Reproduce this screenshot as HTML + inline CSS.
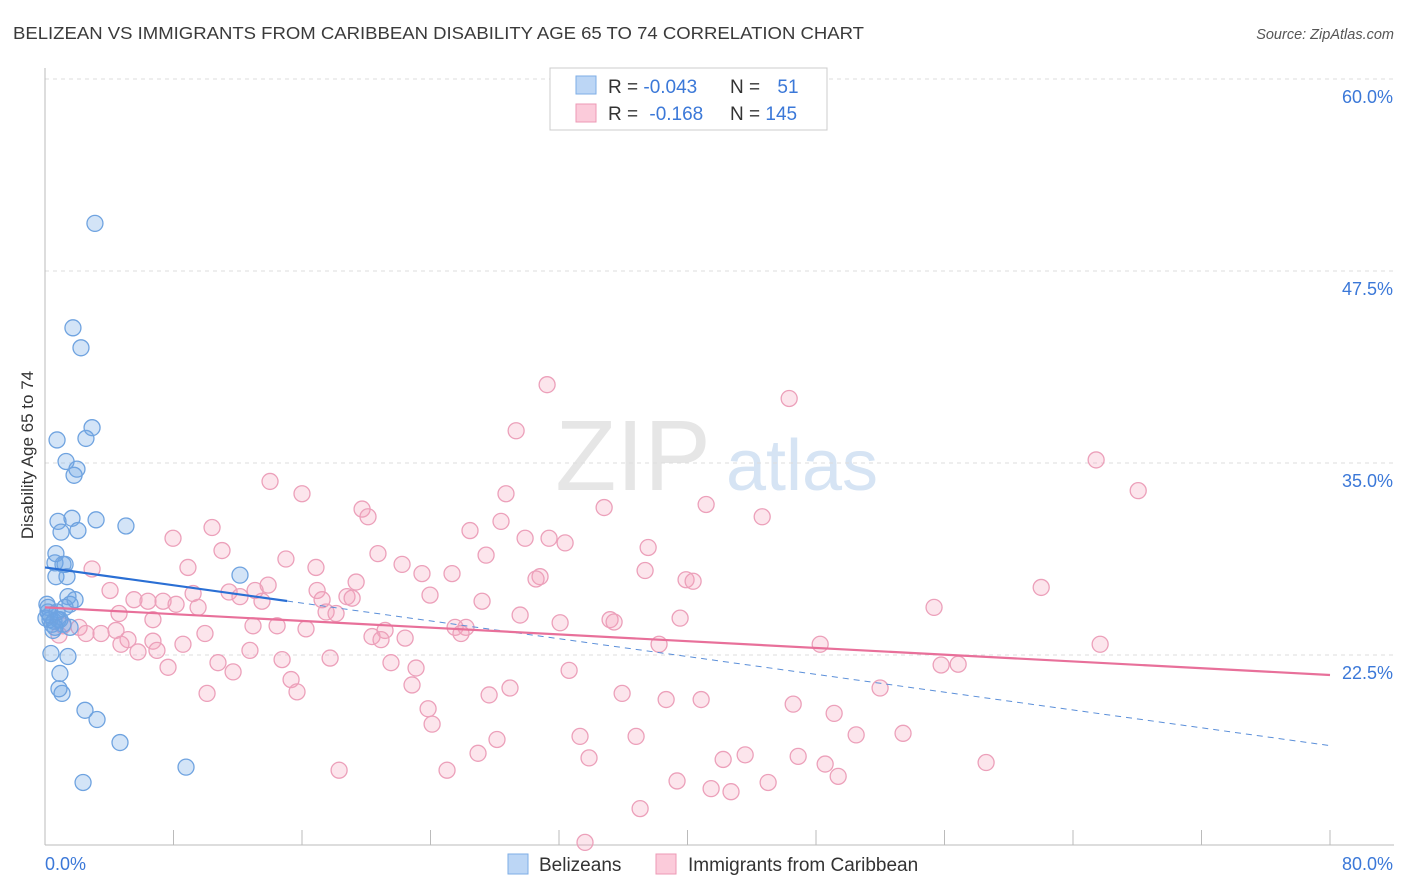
<!DOCTYPE html>
<html><head><meta charset="utf-8"><style>
body{margin:0;background:#fff;font-family:"Liberation Sans",sans-serif;}
#wrap{position:relative;width:1406px;height:892px;overflow:hidden;}
svg text{font-family:"Liberation Sans",sans-serif;}
</style></head><body>
<div id="wrap">
<svg id="chart" width="1406" height="892">
<text x="13" y="39" font-size="17.5" fill="#3a3a3a" textLength="851" lengthAdjust="spacingAndGlyphs">BELIZEAN VS IMMIGRANTS FROM CARIBBEAN DISABILITY AGE 65 TO 74 CORRELATION CHART</text>
<text x="1394" y="39" font-size="14.5" fill="#555" font-style="italic" text-anchor="end">Source: ZipAtlas.com</text>
<text x="633" y="490" font-size="100" fill="#e6e6e6" font-family="Liberation Serif" text-anchor="middle">ZIP</text>
<text x="802" y="490" font-size="72" fill="#d6e4f4" text-anchor="middle">atlas</text>
<text transform="translate(33,455) rotate(-90)" font-size="17" fill="#333" text-anchor="middle">Disability Age 65 to 74</text>
<g id="grid"></g><g id="axes"></g><g id="lines"></g><g id="pts"></g>
<g>
<rect x="550" y="68" width="277" height="62" fill="#fff" stroke="#ccc"/>
<rect x="576" y="76" width="20" height="18" fill="#bcd6f5" stroke="#7eaee6"/>
<rect x="576" y="104" width="20" height="18" fill="#fbcbda" stroke="#ec9ab5"/>
<text x="608" y="93" font-size="19" fill="#333">R = <tspan fill="#3b78d8">-0.043</tspan></text>
<text x="730" y="93" font-size="19" fill="#333">N = <tspan dx="12" fill="#3b78d8">51</tspan></text>
<text x="608" y="120" font-size="19" fill="#333">R = <tspan dx="6" fill="#3b78d8">-0.168</tspan></text>
<text x="730" y="120" font-size="19" fill="#333">N = <tspan fill="#3b78d8">145</tspan></text>
</g>
<g>
<rect x="508" y="854" width="20" height="20" fill="#bcd6f5" stroke="#7eaee6"/>
<text x="539" y="871" font-size="19" fill="#333">Belizeans</text>
<rect x="656" y="854" width="20" height="20" fill="#fbcbda" stroke="#ec9ab5"/>
<text x="688" y="871" font-size="19" fill="#333">Immigrants from Caribbean</text>
</g>
</svg></div>
<script>
const yTicks=[60,47.5,35,22.5];
const yTickLabels=["60.0%","47.5%","35.0%","22.5%"];
const xTicks=[0,8,16,24,32,40,48,56,64,72,80];
const blueX=[3.11,1.74,2.24,2.93,2.55,0.75,1.31,1.99,1.81,3.18,1.68,0.81,2.05,1.0,5.04,0.68,0.62,1.12,1.25,0.68,1.37,12.14,1.43,1.56,1.87,0.12,0.19,0.31,0.44,0.62,0.93,1.56,0.37,1.43,0.93,1.06,0.87,2.49,3.24,4.67,8.78,2.37,0.19,0.31,0.56,0.06,0.81,1.12,0.5,1.25,0.75];
const blueY=[50.6,43.8,42.5,37.3,36.6,36.5,35.1,34.6,34.2,31.3,31.4,31.2,30.6,30.5,30.9,29.1,28.5,28.4,28.4,27.6,27.6,27.7,26.3,25.8,26.1,25.8,25.3,24.8,24.5,24.3,24.8,24.3,22.6,22.4,21.3,20.0,20.3,18.9,18.3,16.8,15.2,14.2,25.6,25.1,24.7,24.9,24.8,24.5,24.1,25.6,25.3];
const pinkX=[31.26,46.33,29.33,65.44,68.06,14.01,16.0,28.7,19.74,20.11,34.81,41.16,44.65,10.4,26.46,28.39,7.97,29.89,31.38,32.38,11.02,20.73,27.46,37.55,15.0,16.87,22.23,8.9,2.93,23.47,25.34,30.82,30.57,37.36,39.91,40.35,19.37,62.02,13.89,4.05,11.46,13.08,9.22,23.97,27.21,5.54,6.41,7.35,12.14,13.51,16.94,17.25,18.8,19.12,8.16,9.53,17.5,4.61,29.58,55.35,6.72,18.12,35.18,35.43,39.54,32.07,14.45,16.25,12.95,25.53,26.21,21.17,25.9,1.12,2.12,2.55,3.49,4.42,5.17,0.87,4.73,6.72,6.97,9.96,8.59,5.79,20.36,20.92,22.42,12.76,48.26,65.69,38.23,17.75,14.76,10.77,21.54,23.1,32.63,7.66,11.71,55.79,56.85,15.32,22.85,28.95,27.65,10.09,15.69,35.93,51.99,38.67,40.85,23.85,46.58,49.13,24.1,33.31,36.8,28.14,50.5,53.42,43.59,42.22,26.96,33.87,46.89,18.31,25.03,48.57,58.59,49.38,39.35,41.47,42.71,45.02,37.05,33.62];
const pinkY=[40.1,39.2,37.1,35.2,33.2,33.8,33.0,33.0,32.0,31.5,32.1,32.3,31.5,30.8,30.6,31.2,30.1,30.1,30.1,29.8,29.3,29.1,29.0,29.5,28.75,28.2,28.4,28.2,28.1,27.8,27.8,27.6,27.45,28.0,27.4,27.3,27.25,26.9,27.05,26.7,26.6,26.7,26.5,26.4,26.0,26.1,26.0,26.0,26.3,26.0,26.7,26.1,26.3,26.2,25.8,25.6,25.3,25.2,25.1,25.6,24.8,25.2,24.8,24.65,24.9,24.6,24.4,24.2,24.4,24.3,24.3,24.1,23.9,24.4,24.3,23.9,23.9,24.1,23.5,23.8,23.2,23.4,22.8,23.9,23.2,22.7,23.7,23.5,23.6,22.8,23.2,23.2,23.2,22.3,22.2,22.0,22.0,21.65,21.5,21.7,21.4,21.85,21.9,20.9,20.55,20.35,19.9,20.0,20.1,20.0,20.35,19.6,19.6,19.0,19.3,18.7,18.0,17.2,17.2,17.0,17.3,17.4,16.0,15.7,16.1,15.8,15.9,15.0,15.0,15.4,15.5,14.6,14.3,13.8,13.6,14.2,12.5,10.3];
const blueTrend=[28.2,16.6]; const blueSolidEnd=15.07;
const pinkTrend=[25.6,21.2];
const NS="http://www.w3.org/2000/svg";
const X=v=>45+v*16.0625, Y=v=>79+(60-v)*15.36;
function mk(t,a,p){const e=document.createElementNS(NS,t);for(const k in a)e.setAttribute(k,a[k]);p.appendChild(e);return e;}
const grid=document.getElementById('grid'),axes=document.getElementById('axes'),lines=document.getElementById('lines'),pts=document.getElementById('pts');
yTicks.forEach((t,i)=>{
 const l=mk('line',{x1:45,x2:1394,y1:Y(t),y2:Y(t),stroke:'#ddd','stroke-dasharray':'4,4'},grid);
 
 
 const tx=mk('text',{x:1393,y:Y(t)+24,'font-size':18,fill:'#3b78d8','text-anchor':'end'},grid);
 tx.textContent=yTickLabels[i];
 
 
});
mk('line',{x1:45,x2:45,y1:68,y2:845,stroke:'#bbb'},axes);
mk('line',{x1:45,x2:1394,y1:845,y2:845,stroke:'#bbb'},axes);
xTicks.forEach(t=>{const l=mk('line',{x1:X(t),x2:X(t),y1:830,y2:845,stroke:'#bbb'},axes);
 
 });
const xl0=mk('text',{x:45,y:870,'font-size':18,fill:'#3b78d8'},axes);xl0.textContent='0.0%';


const xl1=mk('text',{x:1393,y:870,'font-size':18,fill:'#3b78d8','text-anchor':'end'},axes);xl1.textContent='80.0%';


pinkX.forEach((x,i)=>{const c=mk('circle',{cx:X(x),cy:Y(pinkY[i]),r:8,fill:'rgba(244,160,188,0.28)',stroke:'#eca0ba','stroke-width':1.3},pts);
 
 });
blueX.forEach((x,i)=>{const c=mk('circle',{cx:X(x),cy:Y(blueY[i]),r:8,fill:'rgba(110,165,230,0.3)',stroke:'#6fa3e0','stroke-width':1.3},pts);
 
 });
const bAt=x=>blueTrend[0]+(blueTrend[1]-blueTrend[0])*x/80;
const bl=mk('line',{x1:X(0),y1:Y(bAt(0)),x2:X(blueSolidEnd),y2:Y(bAt(blueSolidEnd)),stroke:'#2a6fd4','stroke-width':2.2},pts);


const bd=mk('line',{x1:X(blueSolidEnd),y1:Y(bAt(blueSolidEnd)),x2:X(80),y2:Y(bAt(80)),stroke:'#5b8fd9','stroke-width':1,'stroke-dasharray':'6,5'},pts);


const pl=mk('line',{x1:X(0),y1:Y(pinkTrend[0]),x2:X(80),y2:Y(pinkTrend[1]),stroke:'#e8709a','stroke-width':2.2},pts);


</script>
</body></html>
